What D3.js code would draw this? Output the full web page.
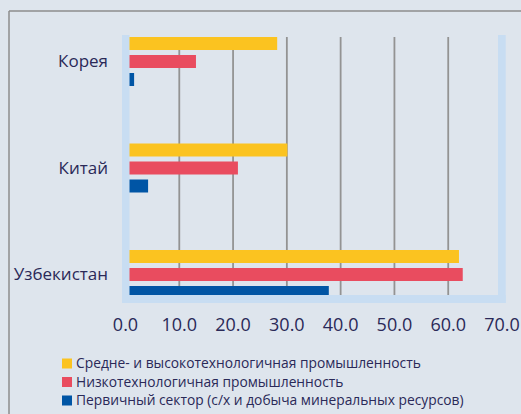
<!DOCTYPE html>
<html>
<head>
<meta charset="utf-8">
<script src="https://cdn.jsdelivr.net/npm/d3@7"></script>
<style>
  body { margin: 0; background: #dee5ed; }
  text { font-family: "Open Sans", sans-serif; fill: #2a2958; }
</style>
</head>
<body>
<script>
var width = 521, height = 414;

var categories = ['Корея', 'Китай', 'Узбекистан'];
var seriesNames = [
  'Средне- и высокотехнологичная промышленность',
  'Низкотехнологичная промышленность',
  'Первичный сектор (с/х и добыча минеральных ресурсов)'
];
var seriesColors = ['#fbc320', '#e94c5f', '#0055a5'];
// values per series, in order of categories
var midHighTech = [28.2, 30.1, 62.0];
var lowTech = [13.1, 20.9, 62.7];
var primary = [1.6, 4.2, 37.8];
var tickValues = [0, 10, 20, 30, 40, 50, 60, 70];

var series = [midHighTech, lowTech, primary];

var svg = d3.select('body').append('svg')
    .attr('width', width)
    .attr('height', height);

// outer frame (only top and left edges visible)
svg.append('line').attr('x1', 9).attr('y1', 11).attr('x2', width).attr('y2', 11)
  .attr('stroke', '#8c8c8c').attr('stroke-width', 1.5);
svg.append('line').attr('x1', 9).attr('y1', 11).attr('x2', 9).attr('y2', height)
  .attr('stroke', '#8c8c8c').attr('stroke-width', 1.5);

var x = d3.scaleLinear().domain([0, 70]).range([125.5, 502]);

var y = d3.scalePoint().domain(categories).range([61.5, 274.5]);
var inner = d3.scalePoint().domain(d3.range(series.length)).range([-18, 18]);
var barH = 13;

var plotTop = 35, floorTop = 295, floorBottom = 303;

// gridlines
svg.append('g').selectAll('line')
  .data(tickValues.filter(function(d) { return d > 0 && d < 70; }))
  .enter().append('line')
    .attr('x1', function(d) { return x(d); })
    .attr('x2', function(d) { return x(d); })
    .attr('y1', 37)
    .attr('y2', floorTop)
    .attr('stroke', '#939393')
    .attr('stroke-width', 1.8);

// bars
var rows = [];
series.forEach(function(vals, si) {
  vals.forEach(function(v, ci) {
    rows.push({s: si, c: categories[ci], v: v});
  });
});

svg.append('g').selectAll('rect')
  .data(rows)
  .enter().append('rect')
    .attr('x', x(0))
    .attr('y', function(d) { return y(d.c) + inner(d.s) - barH / 2; })
    .attr('width', function(d) { return x(d.v) - x(0); })
    .attr('height', barH)
    .attr('fill', function(d) { return seriesColors[d.s]; });

// walls and floor
var wall = '#c8ddf2';
svg.append('rect').attr('x', 122).attr('y', plotTop).attr('width', 7.5)
  .attr('height', floorBottom - plotTop).attr('fill', wall);
svg.append('rect').attr('x', 498).attr('y', plotTop).attr('width', 7.7)
  .attr('height', floorBottom - plotTop).attr('fill', wall);
svg.append('rect').attr('x', 122).attr('y', floorTop).attr('width', 505.7 - 122)
  .attr('height', floorBottom - floorTop).attr('fill', wall);

// category labels
svg.append('g').selectAll('text')
  .data(categories)
  .enter().append('text')
    .attr('x', 108)
    .attr('y', function(d) { return y(d); })
    .attr('dy', '0.35em')
    .attr('text-anchor', 'end')
    .style('font-size', '17px')
    .text(function(d) { return d; });

// x tick labels
svg.append('g').selectAll('text')
  .data(tickValues)
  .enter().append('text')
    .attr('x', function(d) { return x(d); })
    .attr('y', 325)
    .attr('dy', '0.35em')
    .attr('text-anchor', 'middle')
    .style('font-size', '18px')
    .text(function(d) { return d3.format('.1f')(d); });

// legend
var legend = svg.append('g').selectAll('g')
  .data(seriesNames)
  .enter().append('g')
    .attr('transform', function(d, i) { return 'translate(62,' + (363.5 + i * 18.5) + ')'; });

legend.append('rect')
  .attr('x', 0).attr('y', -5).attr('width', 10).attr('height', 10)
  .attr('fill', function(d, i) { return seriesColors[i]; });

legend.append('text')
  .attr('x', 14)
  .attr('dy', '0.35em')
  .style('font-size', '13.8px')
  .text(function(d) { return d; });
</script>
</body>
</html>
